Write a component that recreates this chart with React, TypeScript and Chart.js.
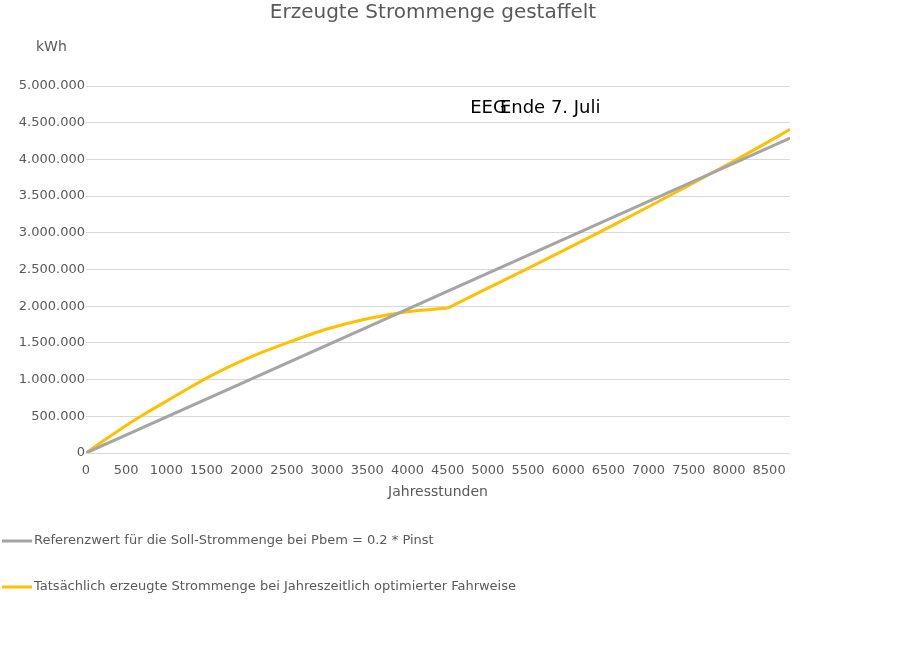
import React, { useEffect, useRef } from "react";
import { Chart, registerables } from "chart.js";

Chart.register(...registerables);

const chartTitle = "Erzeugte Strommenge gestaffelt";
const yUnit = "kWh";
const xTitle = "Jahresstunden";
const annotationLeft = "EEG";
const annotationRight = "Ende 7. Juli";
const annotationLeftHour = 4780;
const annotationRightHour = 5150;
const annotationValue = 4700000;

const referenceLabel = "Referenzwert für die Soll-Strommenge bei Pbem = 0.2 * Pinst";
const actualLabel = "Tatsächlich erzeugte Strommenge bei Jahreszeitlich optimierter Fahrweise";

const referenceHours = [0, 8760];
const referenceValues = [0, 4290000];

// curved part (until EEG end at kinkHour) and nearly straight part afterwards
const actualHours = [0, 250, 500, 750, 1000, 1250, 1500, 2000, 2500, 3000, 3500, 4000, 4500, 5000, 5500, 6000, 6500, 7000, 7500, 8000, 8500, 8760];
const actualValues = [0, 190000, 375000, 545000, 705000, 865000, 1020000, 1285000, 1500000, 1690000, 1830000, 1925000, 1975000, 2245000, 2515000, 2790000, 3070000, 3355000, 3645000, 3940000, 4245000, 4410000];
const kinkHour = 4500;

const xTicks = [0, 500, 1000, 1500, 2000, 2500, 3000, 3500, 4000, 4500, 5000, 5500, 6000, 6500, 7000, 7500, 8000, 8500];
const yTicks = [0, 500000, 1000000, 1500000, 2000000, 2500000, 3000000, 3500000, 4000000, 4500000, 5000000];
const xMin = 0;
const xMax = 8760;
const yMin = 0;
const yMax = 5000000;

const GREY = "#A5A5A5";
const YELLOW = "#FFC000";
const TEXT = "#595959";
const GRID = "#D9D9D9";
const FONT = "'DejaVu Sans', sans-serif";

function fmtDE(v: number): string {
  return String(Math.round(v)).replace(/\B(?=(\d{3})+(?!\d))/g, ".");
}

const overlayPlugin = {
  id: "overlay",
  afterDraw(chart: any) {
    const ctx = chart.ctx;
    const xs = chart.scales.x;
    const ys = chart.scales.y;
    ctx.save();
    ctx.fillStyle = TEXT;
    ctx.font = `20px ${FONT}`;
    ctx.textAlign = "center";
    ctx.textBaseline = "middle";
    ctx.fillText(chartTitle, 433, 13);
    ctx.font = `14px ${FONT}`;
    ctx.textAlign = "left";
    ctx.fillText(yUnit, 36, 47);
    ctx.fillStyle = "#000000";
    ctx.font = `18px ${FONT}`;
    const ay = ys.getPixelForValue(annotationValue);
    ctx.fillText(annotationLeft, xs.getPixelForValue(annotationLeftHour), ay);
    ctx.fillText(annotationRight, xs.getPixelForValue(annotationRightHour), ay);
    const items = chart.data.datasets.filter((d: any) => !d.noLegend);
    const rowYs = [541, 587];
    ctx.font = `13px ${FONT}`;
    items.forEach((ds: any, i: number) => {
      const y = rowYs[i];
      ctx.strokeStyle = ds.borderColor;
      ctx.lineWidth = 3;
      ctx.beginPath();
      ctx.moveTo(2, y);
      ctx.lineTo(32, y);
      ctx.stroke();
      ctx.fillStyle = TEXT;
      ctx.fillText(ds.label, 34, y);
    });
    ctx.restore();
  },
};

export default function App() {
  const ref = useRef<HTMLCanvasElement | null>(null);
  useEffect(() => {
    if (!ref.current) return;
    const pts = actualHours.map((h, i) => ({ x: h, y: actualValues[i] }));
    const curved = pts.filter((p) => p.x <= kinkHour);
    const straight = pts.filter((p) => p.x >= kinkHour);
    const chart = new Chart(ref.current, {
      type: "line",
      data: {
        datasets: [
          {
            label: referenceLabel,
            data: referenceHours.map((h, i) => ({ x: h, y: referenceValues[i] })),
            borderColor: GREY,
            backgroundColor: GREY,
            borderWidth: 3,
            pointRadius: 0,
            tension: 0,
          },
          {
            label: actualLabel,
            data: curved,
            borderColor: YELLOW,
            backgroundColor: YELLOW,
            borderWidth: 3,
            pointRadius: 0,
            cubicInterpolationMode: "monotone",
          },
          {
            label: actualLabel,
            noLegend: true,
            data: straight,
            borderColor: YELLOW,
            backgroundColor: YELLOW,
            borderWidth: 3,
            pointRadius: 0,
            cubicInterpolationMode: "monotone",
          },
        ],
      },
      options: {
        responsive: false,
        animation: false,
        layout: { padding: { left: 0, right: 110, top: 86, bottom: 150 } },
        plugins: {
          legend: { display: false },
          title: { display: false },
          tooltip: { enabled: false },
        },
        scales: {
          x: {
            type: "linear",
            min: xMin,
            max: xMax,
            afterFit: (s: any) => {
              s.height = 60;
            },
            afterBuildTicks: (s: any) => {
              s.ticks = xTicks.map((v) => ({ value: v }));
            },
            ticks: {
              color: TEXT,
              font: { family: FONT, size: 13 },
              padding: 10,
              maxRotation: 0,
              autoSkip: false,
              callback: (v: any) => String(v),
            },
            grid: { display: false, drawTicks: false },
            border: { display: false },
            title: {
              display: true,
              text: xTitle,
              color: TEXT,
              font: { family: FONT, size: 14 },
              padding: { top: 0, bottom: 12 },
            },
          },
          y: {
            type: "linear",
            min: yMin,
            max: yMax,
            afterFit: (s: any) => {
              s.width = 86;
            },
            afterBuildTicks: (s: any) => {
              s.ticks = yTicks.map((v) => ({ value: v }));
            },
            ticks: {
              color: TEXT,
              font: { family: FONT, size: 13 },
              padding: 1,
              autoSkip: false,
              callback: (v: any) => fmtDE(Number(v)),
            },
            grid: { color: GRID, lineWidth: 1, drawTicks: false },
            border: { display: false },
          },
        },
      },
      plugins: [overlayPlugin],
    } as any);
    return () => chart.destroy();
  }, []);
  return (
    <div style={{ position: "fixed", left: 0, top: 0, width: 900, height: 663, background: "#fff" }}>
      <canvas ref={ref} width={900} height={663} />
    </div>
  );
}
